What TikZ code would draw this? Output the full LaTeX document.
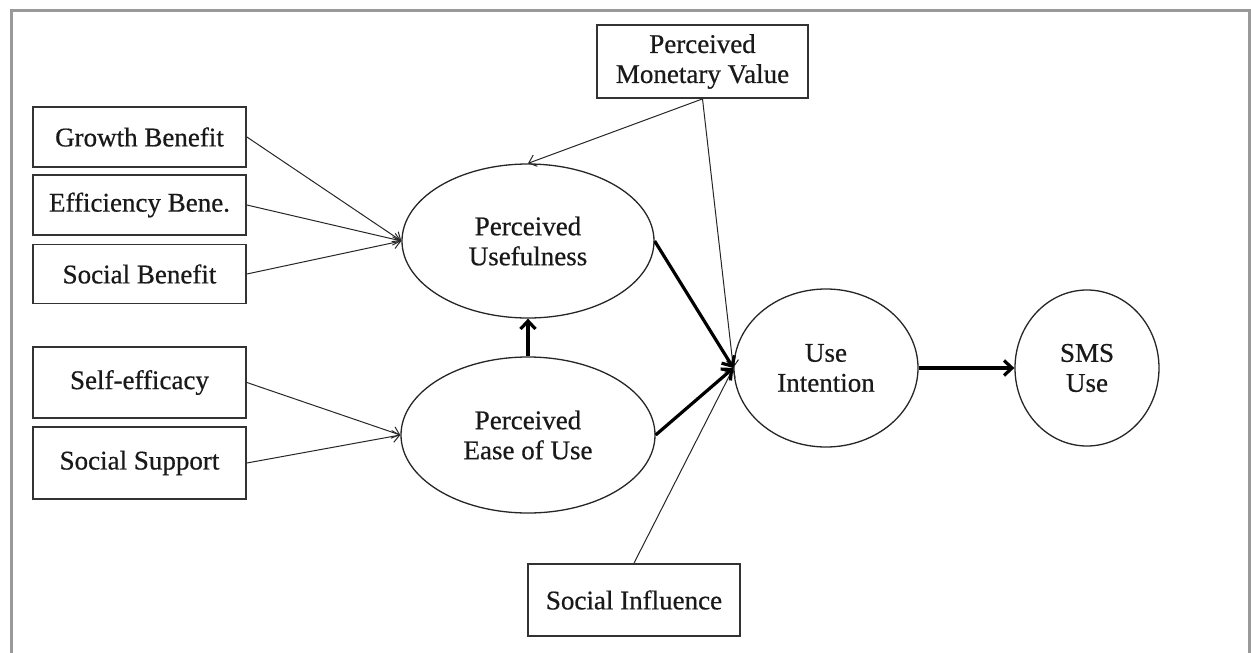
\documentclass[tikz,border=0pt]{standalone}
\usepackage{fontspec}
\setmainfont{Liberation Serif}
\newfontfamily\heavyfont{Liberation Serif}[FakeBold=0.6]
\usetikzlibrary{shapes.geometric,arrows.meta}
\begin{document}
\begin{tikzpicture}[x=1pt,y=-1pt,
  every node/.style={font=\heavyfont\fontsize{27}{30}\selectfont, text=black!90, align=center},
  varbox/.style={draw=black!80, line width=1.8pt, fill=white, inner sep=0pt},
  latent/.style={ellipse, draw=black!85, line width=1.3pt, fill=white, inner sep=0pt},
  thin/.style={draw=black!85, line width=1pt, -{Straight Barb[length=7pt,width=12pt]}},
  thick/.style={draw=black, line width=3.2pt, -{Straight Barb[length=8pt,width=15pt]}}]
\useasboundingbox (0,0) rectangle (1251,653);
% frame
\draw[gray!80, line width=3pt] (11,660) -- (11,10) -- (1249,10) -- (1249,660);
% boxes
\node[varbox, minimum width=213pt, minimum height=60pt] (gb) at (139.5,137) {Growth Benefit};
\node[varbox, minimum width=213pt, minimum height=60pt] (eb) at (139.5,205) {Efficiency Bene.};
\node[varbox, minimum width=213pt, minimum height=59pt] (sb) at (139.5,274) {Social Benefit};
\node[varbox, minimum width=213pt, minimum height=71pt] (se) at (139.5,382.5) {Self-efficacy};
\node[varbox, minimum width=213pt, minimum height=72pt] (ss) at (139.5,463) {Social Support};
\node[varbox, minimum width=211pt, minimum height=73pt] (pmv) at (702.5,61.5) {Perceived\\Monetary Value};
\node[varbox, minimum width=212pt, minimum height=72pt] (si) at (634,600) {Social Influence};
% latent variables
\node[latent, minimum width=252pt, minimum height=154pt] (pu) at (528,241) {Perceived\\Usefulness};
\node[latent, minimum width=254pt, minimum height=156pt] (peou) at (528,435) {Perceived\\Ease of Use};
\node[latent, minimum width=184pt, minimum height=158pt] (ui) at (826,368) {Use\\Intention};
\node[latent, minimum width=144pt, minimum height=156pt] (sms) at (1087,368) {SMS\\Use};
% thin connectors
\draw[thin] (gb.east) -- (pu.west);
\draw[thin] (eb.east) -- (pu.west);
\draw[thin] (sb.east) -- (pu.west);
\draw[thin] (se.east) -- (peou.west);
\draw[thin] (ss.east) -- (peou.west);
\draw[thin] (pmv.south) -- (pu.north);
\draw[thin] (pmv.south) -- (ui.west);
\draw[thin] (si.north) -- (ui.west);
% thick connectors
\draw[thick] (peou.north) -- (pu.south);
\draw[thick] (pu.east) -- (ui.west);
\draw[thick] (peou.east) -- (ui.west);
\draw[thick] (ui.east) -- (sms.west);
\end{tikzpicture}
\end{document}
